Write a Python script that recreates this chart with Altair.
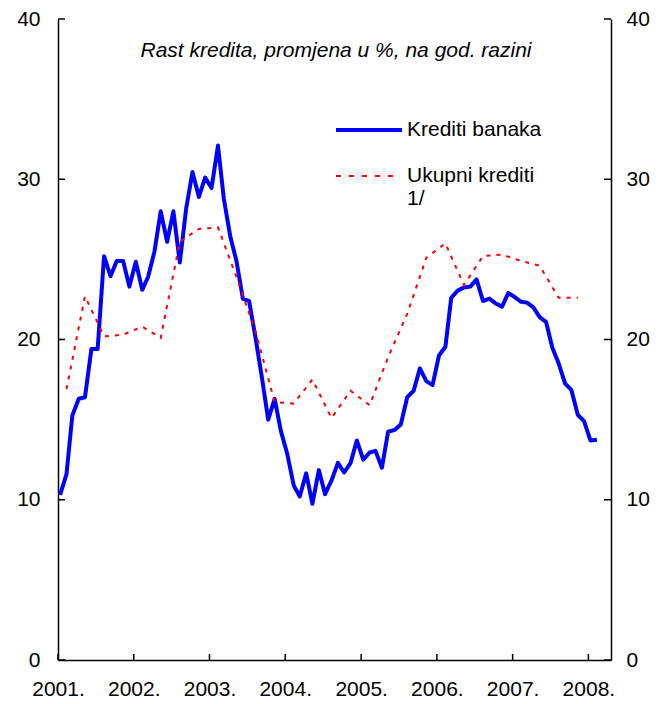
import altair as alt
import pandas as pd

# Krediti banaka, monthly Jan 2001 - Feb 2008 (%, y/y)
blue_values = [
    10.3, 11.6, 15.25, 16.3, 16.4, 19.4, 19.4, 25.2, 23.95, 24.9, 24.9, 23.3,
    24.85, 23.1, 23.9, 25.5, 28.0, 26.1, 28.0, 24.8, 28.2, 30.45, 28.9, 30.1,
    29.45, 32.1, 28.8, 26.45, 24.9, 22.55, 22.4, 20.1, 17.6, 15.0, 16.3, 14.3,
    12.85, 10.9, 10.2, 11.65, 9.75, 11.85, 10.35, 11.2, 12.3, 11.7, 12.3, 13.7,
    12.5, 12.95, 13.05, 12.0, 14.25, 14.35, 14.7, 16.4, 16.8, 18.2, 17.4, 17.15,
    19.0, 19.55, 22.6, 23.05, 23.25, 23.3, 23.75, 22.4, 22.55, 22.25, 22.05, 22.9,
    22.65, 22.35, 22.3, 22.0, 21.4, 21.1, 19.5, 18.5, 17.25, 16.85, 15.3, 14.9,
    13.7, 13.75,
]
# Ukupni krediti 1/, quarterly from Feb 2001
red_values = [
    16.9, 22.7, 20.2, 20.3,
    20.8, 20.1, 26.1, 26.9,
    27.0, 23.9, 20.5, 16.1,
    16.0, 17.5, 15.1, 16.8,
    15.9, 18.9, 21.6, 25.1,
    26.0, 23.4, 25.2, 25.3,
    24.9, 24.6, 22.6, 22.6,
]
y_ticks = [0, 10, 20, 30, 40]
x_tick_years = [2001, 2002, 2003, 2004, 2005, 2006, 2007, 2008]
title_text = "Rast kredita, promjena u %, na god. razini"
legend_labels = ["Krediti banaka", "Ukupni krediti", "1/"]

FONT = "Liberation Sans"
FS = 21
W, H = 553, 641

blue_dates = pd.date_range("2001-01-11", periods=len(blue_values), freq=pd.DateOffset(months=1))
red_dates = pd.date_range("2001-02-11", periods=len(red_values), freq=pd.DateOffset(months=3))
df_blue = pd.DataFrame({"date": blue_dates, "value": blue_values})
df_red = pd.DataFrame({"date": red_dates, "value": red_values})
df_yt = pd.DataFrame({"v": y_ticks})
df_xt = pd.DataFrame({"d": pd.to_datetime([f"{y}-01-01T00:00:00" for y in x_tick_years])})

x_scale = alt.Scale(domain=[alt.DateTime(year=2001, month=1, date=1),
                            alt.DateTime(year=2008, month=4, date=19)])
y_scale = alt.Scale(domain=[0, 40], nice=False)

common_axis = dict(ticks=False, tickSize=0, grid=False, title=None,
                   labelFont=FONT, labelFontSize=FS, labelColor="black",
                   domainColor="black", domainWidth=1.5)

blue = alt.Chart(df_blue).mark_line(color="#0000FF", strokeWidth=4, strokeJoin="round").encode(
    x=alt.X("date:T", scale=x_scale,
            axis=alt.Axis(format="%Y.", tickCount="year", labelPadding=18,
                          labelFlush=False, labelOverlap=False, **common_axis)),
    y=alt.Y("value:Q", scale=y_scale,
            axis=alt.Axis(orient="left", values=y_ticks, labelPadding=18, **common_axis)),
)

red = alt.Chart(df_red).mark_line(color="#FF0000", strokeWidth=2, strokeDash=[4, 6]).encode(
    x=alt.X("date:T", scale=x_scale, axis=None),
    y=alt.Y("value:Q", scale=y_scale,
            axis=alt.Axis(orient="right", values=y_ticks, labelPadding=15, **common_axis)),
)

ytick_left = alt.Chart(df_yt).mark_rule(color="black", strokeWidth=1.5).encode(
    y=alt.Y("v:Q", scale=y_scale, axis=None), x=alt.value(0), x2=alt.value(7))
ytick_right = alt.Chart(df_yt).mark_rule(color="black", strokeWidth=1.5).encode(
    y=alt.Y("v:Q", scale=y_scale, axis=None), x=alt.value(W - 7), x2=alt.value(W))
xtick = alt.Chart(df_xt).mark_rule(color="black", strokeWidth=1.5).encode(
    x=alt.X("d:T", scale=x_scale, axis=None), y=alt.value(H), y2=alt.value(H - 6))

title = alt.Chart(pd.DataFrame({"t": [title_text]})).mark_text(
    font=FONT, fontSize=FS, fontStyle="italic", align="center", baseline="middle", color="black"
).encode(text="t:N", x=alt.value(278), y=alt.value(32))

leg_blue_line = alt.Chart(pd.DataFrame({"a": [0]})).mark_rule(
    color="#0000FF", strokeWidth=4).encode(x=alt.value(278), x2=alt.value(344), y=alt.value(111))
leg_red_line = alt.Chart(pd.DataFrame({"a": [0]})).mark_rule(
    color="#FF0000", strokeWidth=2, strokeDash=[5, 8]).encode(x=alt.value(278), x2=alt.value(343), y=alt.value(157))

def leg_text(label, y):
    return alt.Chart(pd.DataFrame({"t": [label]})).mark_text(
        font=FONT, fontSize=FS, align="left", baseline="middle", color="black"
    ).encode(text="t:N", x=alt.value(349), y=alt.value(y))

chart = alt.layer(
    blue, red, ytick_left, ytick_right, xtick, title,
    leg_blue_line, leg_red_line,
    leg_text(legend_labels[0], 111), leg_text(legend_labels[1], 157), leg_text(legend_labels[2], 180),
).resolve_axis(x="independent", y="independent").properties(
    width=W, height=H,
    autosize=alt.AutoSizeParams(type="none"),
    padding={"left": 50, "top": 11, "right": 48, "bottom": 44},
).configure_view(stroke=None)

chart.save("out.html", embed_options={"renderer": "svg", "actions": False})
